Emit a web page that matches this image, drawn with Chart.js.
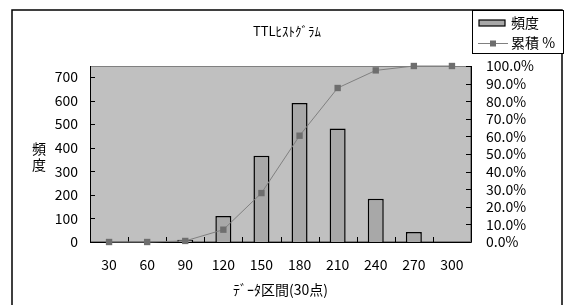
<!DOCTYPE html>
<html>
<head>
<meta charset="utf-8">
<script src="https://cdn.jsdelivr.net/npm/chart.js@4.4.1/dist/chart.umd.min.js"></script>
<style>
  body { margin: 0; background: #fff; }
  canvas { display: block; }
</style>
</head>
<body>
<canvas id="histChart" width="567" height="305"></canvas>
<script>
// data
const categories = ['30', '60', '90', '120', '150', '180', '210', '240', '270', '300'];
const frequency = [0, 0, 10, 110, 366, 590, 482, 184, 42, 0];
const cumulativePct = [0, 0, 0.6, 7.0, 27.8, 60.4, 87.5, 97.5, 100, 100];
const freqTicks = [0, 100, 200, 300, 400, 500, 600, 700];
const pctTicks = [0, 10, 20, 30, 40, 50, 60, 70, 80, 90, 100];
const seriesNames = ['頻度', '累積 %'];
const chartTitle = 'TTLﾋｽﾄｸﾞﾗﾑ';
const xTitle = 'ﾃﾞｰﾀ区間(30点)';
const yTitle = '頻度';

const FONT = "'Noto Sans CJK JP', 'Noto Sans', sans-serif";

// excel-ish extras: plot fill, axis lines, inside ticks, titles, boxed legend
const excelLook = {
  id: 'excelLook',
  beforeDraw(chart) {
    const { ctx, chartArea: a } = chart;
    ctx.save();
    ctx.fillStyle = '#fff';
    ctx.fillRect(0, 0, chart.width, chart.height);
    ctx.strokeStyle = '#000';
    ctx.lineWidth = 1.5;
    ctx.strokeRect(12, 10, 550, 300);
    ctx.fillStyle = '#c0c0c0';
    ctx.fillRect(a.left, a.top, a.right - a.left, a.bottom - a.top);
    ctx.strokeStyle = '#808080';
    ctx.lineWidth = 1;
    ctx.strokeRect(a.left + 0.5, a.top + 0.5, a.right - a.left - 1, a.bottom - a.top - 1);
    ctx.restore();
  },
  beforeDatasetsDraw(chart) {
    const { ctx, chartArea: a, scales } = chart;
    ctx.save();
    ctx.strokeStyle = '#000';
    ctx.lineWidth = 1;
    ctx.beginPath();
    ctx.moveTo(a.left + 0.5, a.top);
    ctx.lineTo(a.left + 0.5, a.bottom + 0.5);
    ctx.lineTo(a.right + 0.5, a.bottom + 0.5);
    ctx.moveTo(a.right + 0.5, a.top);
    ctx.lineTo(a.right + 0.5, a.bottom + 0.5);
    // inside ticks
    scales.y.ticks.forEach(t => {
      const y = Math.round(scales.y.getPixelForValue(t.value)) + 0.5;
      ctx.moveTo(a.left, y);
      ctx.lineTo(a.left + 5, y);
    });
    scales.y1.ticks.forEach(t => {
      const y = Math.round(scales.y1.getPixelForValue(t.value)) + 0.5;
      ctx.moveTo(a.right - 5, y);
      ctx.lineTo(a.right, y);
    });
    for (let i = 0; i < categories.length - 1; i++) {
      const x = Math.round((scales.x.getPixelForTick(i) + scales.x.getPixelForTick(i + 1)) / 2) + 0.5;
      ctx.moveTo(x, a.bottom);
      ctx.lineTo(x, a.bottom - 5);
    }
    ctx.stroke();
    ctx.restore();
  },
  afterDraw(chart) {
    const { ctx, chartArea: a } = chart;
    ctx.save();
    ctx.fillStyle = '#000';
    ctx.textBaseline = 'middle';
    ctx.textAlign = 'center';
    ctx.font = '13px ' + FONT;
    ctx.fillText(chartTitle, 287, 31);
    ctx.font = '14px ' + FONT;
    ctx.fillText(xTitle, (a.left + a.right) / 2, 290);
    // vertical, upright characters
    Array.from(yTitle).forEach((ch, i) => {
      ctx.fillText(ch, 39, 149 + i * 16);
    });

    // legend box
    const bar = chart.data.datasets.find(d => d.type === 'bar');
    const line = chart.data.datasets.find(d => d.type === 'line');
    ctx.fillStyle = '#fff';
    ctx.fillRect(472, 10, 91, 43);
    ctx.strokeStyle = '#000';
    ctx.lineWidth = 1;
    ctx.strokeRect(472.5, 10.5, 91, 43);

    ctx.fillStyle = bar.backgroundColor;
    ctx.fillRect(479, 20, 26, 6);
    ctx.strokeStyle = bar.borderColor;
    ctx.lineWidth = 1.2;
    ctx.strokeRect(479, 20, 26, 6);

    ctx.strokeStyle = line.borderColor;
    ctx.lineWidth = 1;
    ctx.beginPath();
    ctx.moveTo(478, 43.5);
    ctx.lineTo(508, 43.5);
    ctx.stroke();
    ctx.fillStyle = line.pointBackgroundColor;
    ctx.fillRect(490, 40.5, 6, 6);

    ctx.fillStyle = '#000';
    ctx.textAlign = 'left';
    ctx.font = '14px ' + FONT;
    ctx.fillText(bar.label, 511, 23);
    ctx.fillText(line.label, 511, 43);
    ctx.restore();
  }
};

const ctx = document.getElementById('histChart').getContext('2d');

new Chart(ctx, {
  data: {
    labels: categories,
    datasets: [
      {
        type: 'line',
        label: seriesNames[1],
        data: cumulativePct,
        yAxisID: 'y1',
        borderColor: '#808080',
        borderWidth: 1,
        pointStyle: 'rect',
        pointRadius: 4.5,
        pointBackgroundColor: '#6e6e6e',
        pointBorderColor: '#6e6e6e',
        pointBorderWidth: 0,
        tension: 0,
        clip: false,
        order: 1
      },
      {
        type: 'bar',
        label: seriesNames[0],
        data: frequency,
        yAxisID: 'y',
        backgroundColor: '#a8a8a8',
        borderColor: '#000',
        borderWidth: 1.5,
        barPercentage: 0.42,
        categoryPercentage: 1,
        order: 2
      }
    ]
  },
  options: {
    responsive: false,
    animation: false,
    layout: { padding: { top: 66, left: 0, right: 0, bottom: 0 } },
    plugins: {
      legend: { display: false },
      title: { display: false },
      tooltip: { enabled: false }
    },
    scales: {
      x: {
        grid: { display: false, drawTicks: false },
        border: { display: false },
        ticks: { color: '#000', padding: 14, autoSkip: false, font: { family: FONT, size: 14 }, maxRotation: 0 },
        afterFit(scale) { scale.height = 63; }
      },
      y: {
        position: 'left',
        min: 0,
        max: 746.7,
        grid: { display: false, drawTicks: false },
        border: { display: false },
        ticks: { color: '#000', padding: 12, autoSkip: false, font: { family: FONT, size: 14 } },
        afterBuildTicks(scale) {
          scale.ticks = freqTicks.map(v => ({ value: v }));
        },
        afterFit(scale) { scale.width = 90; }
      },
      y1: {
        position: 'right',
        min: 0,
        max: 100,
        grid: { display: false, drawTicks: false },
        border: { display: false },
        ticks: {
          color: '#000',
          padding: 15,
          autoSkip: false,
          font: { family: FONT, size: 14 },
          callback: v => v.toFixed(1) + '%'
        },
        afterBuildTicks(scale) {
          scale.ticks = pctTicks.map(v => ({ value: v }));
        },
        afterFit(scale) { scale.width = 96; }
      }
    }
  },
  plugins: [excelLook]
});
</script>
</body>
</html>
